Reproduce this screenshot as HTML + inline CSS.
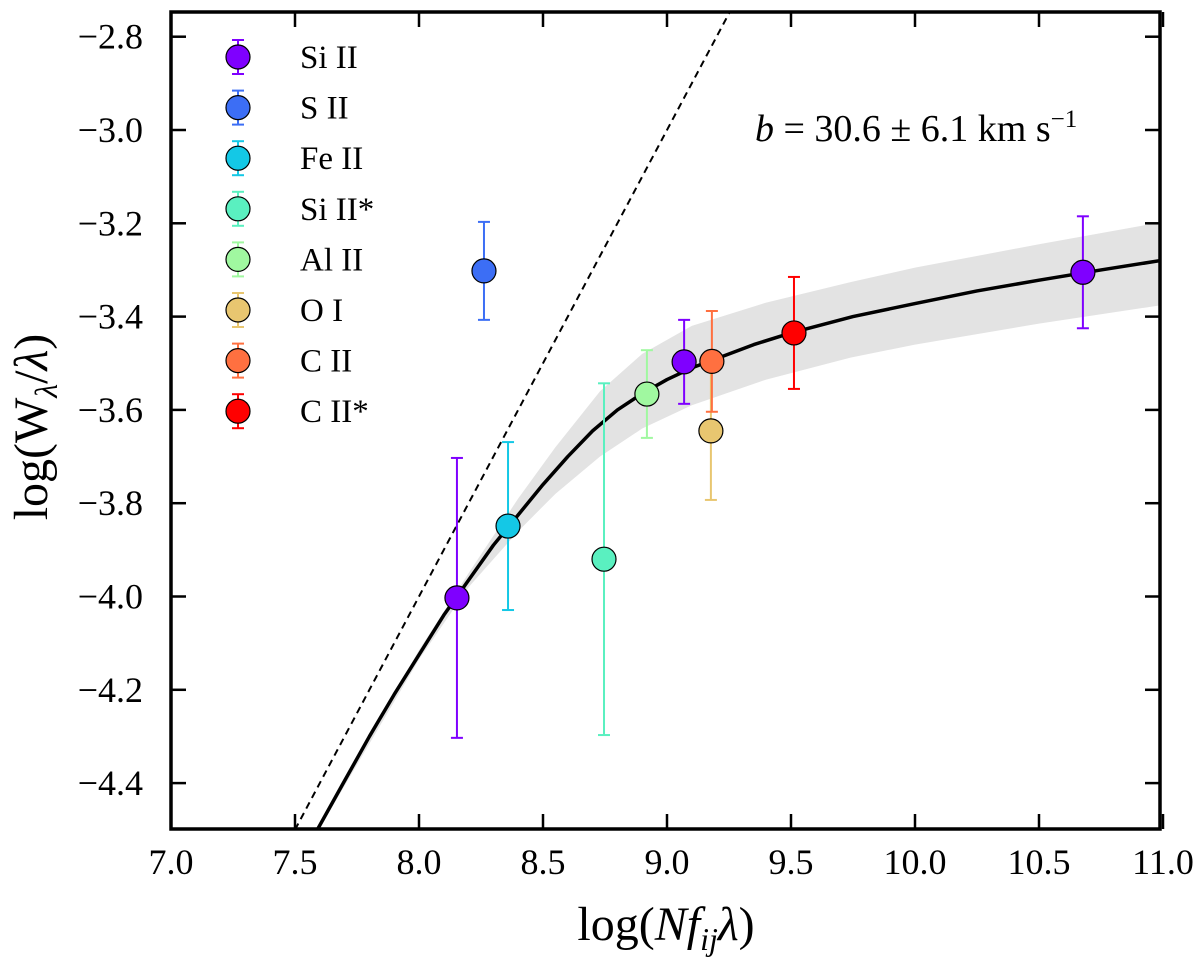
<!DOCTYPE html>
<html><head><meta charset="utf-8"><style>
body{margin:0;background:#fff}
text{font-family:"Liberation Serif",serif;fill:#000}
</style></head><body>
<svg id="chart" width="1200" height="957" xmlns="http://www.w3.org/2000/svg" font-family="Liberation Serif, serif"></svg>
<script>
const xTicks=[7.0,7.5,8.0,8.5,9.0,9.5,10.0,10.5,11.0];
const yTicks=[-2.8,-3.0,-3.2,-3.4,-3.6,-3.8,-4.0,-4.2,-4.4];
const species=["Si II","S II","Fe II","Si II*","Al II","O I","C II","C II*"];
const colors=["#7f00ff","#3c6ef5","#14c8e6","#5af0c0","#a0f8a0","#e8c670","#ff7040","#ff0000"];
const ptSpecies=[0,0,0,1,2,3,4,5,6,7];
const ptX=[8.153,9.069,10.677,8.262,8.359,8.746,8.919,9.177,9.181,9.512];
const ptY=[-4.003,-3.497,-3.305,-3.302,-3.849,-3.920,-3.566,-3.645,-3.496,-3.435];
const ptErr=[0.30,0.09,0.12,0.105,0.18,0.377,0.094,0.148,0.108,0.12];
const curveX=[7.59,7.7,7.8,7.9,8.0,8.1,8.2,8.3,8.4,8.5,8.6,8.7,8.8,8.9,9.0,9.1,9.2,9.35,9.5,9.75,10.0,10.25,10.5,10.75,11.0];
const curveY=[-4.5,-4.395,-4.30,-4.21,-4.125,-4.04,-3.965,-3.89,-3.825,-3.76,-3.70,-3.645,-3.60,-3.565,-3.535,-3.51,-3.49,-3.46,-3.435,-3.40,-3.372,-3.345,-3.322,-3.300,-3.279];
const bandX=[7.59,8.0,8.2,8.4,8.55,8.73,8.9,9.1,9.4,9.74,10.0,10.5,11.0];
const bandUp=[-4.495,-4.115,-3.95,-3.79,-3.68,-3.56,-3.48,-3.42,-3.37,-3.326,-3.295,-3.245,-3.197];
const bandLo=[-4.505,-4.135,-3.98,-3.86,-3.78,-3.70,-3.64,-3.59,-3.535,-3.488,-3.46,-3.415,-3.375];
const L=171,R=1160,T=12,B=829;
const X=v=>L+(v-7)*248;
const Y=v=>36.7+(-2.8-v)*466.5;
const svg=document.getElementById('chart');
const NS="http://www.w3.org/2000/svg";
function mk(tag,attrs,parent){const e=document.createElementNS(NS,tag);for(const k in attrs)e.setAttribute(k,attrs[k]);(parent||svg).appendChild(e);return e;}
const defs=mk('defs',{});const cp=mk('clipPath',{id:'clip'},defs);mk('rect',{x:L,y:T,width:R-L,height:B-T},cp);
const plot=mk('g',{'clip-path':'url(#clip)'});

let bp=bandX.map((x,i)=>X(x)+','+Y(bandUp[i])).join(' ')+' '+bandX.slice().reverse().map((x,i)=>X(x)+','+Y(bandLo[bandX.length-1-i])).join(' ');
const band=mk('polygon',{points:bp,fill:'#e3e3e3'},plot);

const dl=mk('line',{x1:X(7.5),y1:Y(-4.5),x2:X(9.3),y2:Y(-2.7),stroke:'#000','stroke-width':2,'stroke-dasharray':'7,5'},plot);

const cl=mk('polyline',{points:curveX.map((x,i)=>X(x)+','+Y(curveY[i])).join(' '),fill:'none',stroke:'#000','stroke-width':3.5,'stroke-linejoin':'round'},plot);

function errbar(g,cx,cy,top,bot,col){
  mk('line',{x1:cx,y1:top,x2:cx,y2:bot,stroke:col,'stroke-width':2},g);
  mk('line',{x1:cx-6,y1:top,x2:cx+6,y2:top,stroke:col,'stroke-width':2},g);
  mk('line',{x1:cx-6,y1:bot,x2:cx+6,y2:bot,stroke:col,'stroke-width':2},g);
  mk('circle',{cx:cx,cy:cy,r:12,fill:col,stroke:'#000','stroke-width':1.2},g);
}
ptX.forEach((x,i)=>{
  const g=mk('g',{},plot);
  
  
  errbar(g,X(x),Y(ptY[i]),Y(ptY[i]+ptErr[i]),Y(ptY[i]-ptErr[i]),colors[ptSpecies[i]]);
});
const fr=mk('rect',{x:L,y:T,width:R-L,height:B-T,fill:'none',stroke:'#000','stroke-width':3.5});

const F='Liberation Serif, serif';
xTicks.forEach(t=>{
  const x=X(t);
  mk('line',{x1:x,y1:B,x2:x,y2:B-15,stroke:'#000','stroke-width':2.5});
  mk('line',{x1:x,y1:T,x2:x,y2:T+15,stroke:'#000','stroke-width':2.5});
  const tx=mk('text',{x:x,y:874,'font-size':36,'text-anchor':'middle','font-family':F});tx.textContent=t.toFixed(1);
  
});
yTicks.forEach(t=>{
  const y=Y(t);
  mk('line',{x1:L,y1:y,x2:L+15,y2:y,stroke:'#000','stroke-width':2.5});
  mk('line',{x1:R,y1:y,x2:R-15,y2:y,stroke:'#000','stroke-width':2.5});
  const ty=mk('text',{x:143,y:y+12,'font-size':36,'text-anchor':'end','font-family':F});ty.textContent='\u2212'+Math.abs(t).toFixed(1);
  
});
const lg=mk('g',{});
species.forEach((s,i)=>{
  const y=57+i*50.6;
  const g=mk('g',{},lg);
  
  errbar(g,238,y,y-17,y+17,colors[i]);
  const t=mk('text',{x:300,y:y+11,'font-size':33,'font-family':F},g);t.textContent=s;
});
</script>
<svg style="position:absolute;left:0;top:0" width="1200" height="957" xmlns="http://www.w3.org/2000/svg">
<text x="755" y="141" font-size="38" font-family="Liberation Serif, serif"><tspan font-style="italic">b</tspan> = 30.6 ± 6.1 km s<tspan dy="-14" font-size="25">−1</tspan></text>
<text x="666" y="940" font-size="48" text-anchor="middle" font-family="Liberation Serif, serif">log(<tspan font-style="italic">Nf</tspan><tspan font-style="italic" font-size="32" dy="10">ij</tspan><tspan font-style="italic" dy="-10">λ</tspan>)</text>
<text transform="translate(47,427) rotate(-90)" font-size="48" text-anchor="middle" font-family="Liberation Serif, serif">log(W<tspan font-style="italic" font-size="32" dy="10">λ</tspan><tspan dy="-10">/</tspan><tspan font-style="italic">λ</tspan>)</text>
</svg>
</body></html>
